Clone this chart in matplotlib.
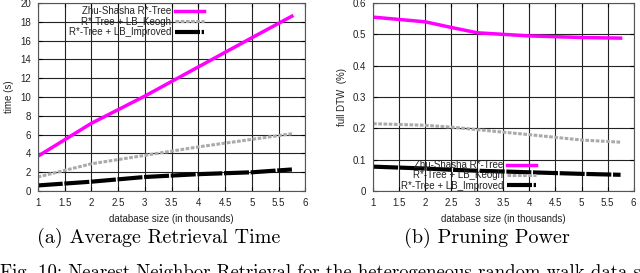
import matplotlib
matplotlib.use("Agg")
import matplotlib.pyplot as plt

sizes = [1, 2, 3, 4, 5, 5.75]

# (a) average retrieval time (s)
time_zhu = [3.7, 7.2, 10.1, 13.2, 16.3, 18.6]
time_keogh = [1.5, 2.9, 3.8, 4.7, 5.5, 6.1]
time_improved = [0.6, 1.0, 1.5, 1.8, 2.0, 2.3]

# (b) pruning power, fraction of full DTW
prune_sizes = [1, 2, 2.5, 3, 4, 5, 5.75]
prune_zhu = [0.555, 0.54, 0.522, 0.505, 0.495, 0.49, 0.488]
prune_keogh = [0.215, 0.21, 0.204, 0.196, 0.18, 0.163, 0.156]
prune_improved = [0.078, 0.072, 0.068, 0.065, 0.06, 0.055, 0.052]

labels = ["Zhu-Shasha R*-Tree", "R*-Tree + LB_Keogh", "R*-Tree + LB_Improved"]
xticks = [1, 1.5, 2, 2.5, 3, 3.5, 4, 4.5, 5, 5.5, 6]

plt.rcParams['font.family'] = ['Liberation Sans', 'DejaVu Sans']

fig = plt.figure(figsize=(6.4, 2.73), dpi=100)
ax1 = fig.add_axes([0.059, 0.300, 0.418, 0.689])
ax2 = fig.add_axes([0.583, 0.300, 0.407, 0.689])


def style(ax, ylim, yticks, ylabel):
    ax.set_xlim(1, 6)
    ax.set_ylim(*ylim)
    ax.set_xticks(xticks)
    ax.set_xticklabels([f"{t:g}" for t in xticks])
    ax.set_yticks(yticks)
    ax.set_yticklabels([f"{t:g}" for t in yticks])
    ax.grid(True, color="#222222", linewidth=0.8)
    ax.tick_params(labelsize=7, length=3, direction="in", top=True, right=True, pad=5,
                   labelcolor="#222222")
    for s in ax.spines.values():
        s.set_color("#555555")
        s.set_linewidth(0.8)
    ax.set_xlabel("database size (in thousands)", fontsize=7, labelpad=4, color="#222222")
    ax.set_ylabel(ylabel, fontsize=7, labelpad=4, color="#222222")


def draw(ax, x, a, b, c):
    ax.plot(x, a, color="#ff00ff", lw=2.5, label=labels[0])
    ax.plot(x, b, color="#aaaaaa", lw=2.2, ls=(0, (1.2, 0.5)), label=labels[1])
    ax.plot(x, c, color="black", lw=3, ls=(0, (6, 0.4)), label=labels[2])


leg = dict(frameon=False, markerfirst=False, fontsize=7, handlelength=3,
           labelspacing=0.05, borderpad=0.2, handletextpad=0.4, labelcolor="#222222")

draw(ax1, sizes, time_zhu, time_keogh, time_improved)
style(ax1, (0, 20), range(0, 21, 2), "time (s)")
ax1.legend(loc="upper left", bbox_to_anchor=(0.09, 1.02), **leg)

draw(ax2, prune_sizes, prune_zhu, prune_keogh, prune_improved)
style(ax2, (0, 0.6), [0, 0.1, 0.2, 0.3, 0.4, 0.5, 0.6], "full DTW  (%)")
ax2.legend(loc="lower left", bbox_to_anchor=(0.08, -0.035), **leg)

cap = dict(fontfamily="cmr10", fontsize=14.5, ha="center", va="center")
fig.text(0.248, 0.128, "(a) Average Retrieval Time", **cap)
fig.text(0.761, 0.128, "(b) Pruning Power", **cap)
fig.text(0.0, 0.0, "Fig. 10: Nearest Neighbor Retrieval for the heterogeneous random walk data set",
         fontfamily="cmr10", fontsize=13.5, ha="left", va="center")

fig.savefig("out.png", dpi=100)
